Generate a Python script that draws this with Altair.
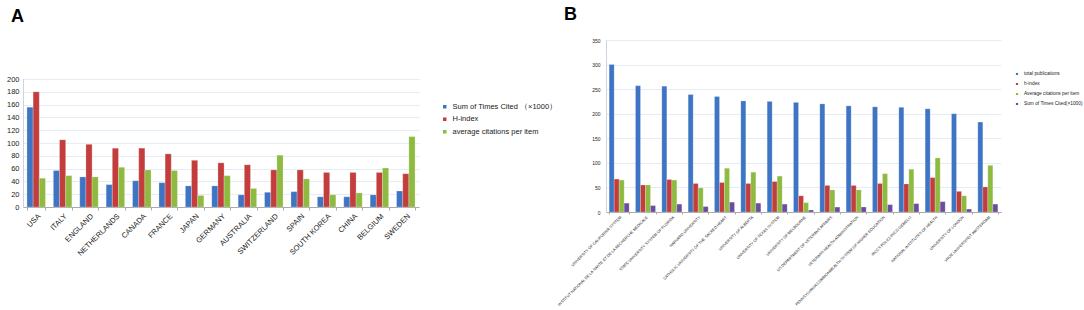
import altair as alt
import pandas as pd

# ---------- Panel A data ----------
countries = ["USA", "ITALY", "ENGLAND", "NETHERLANDS", "CANADA", "FRANCE", "JAPAN",
             "GERMANY", "AUSTRALIA", "SWITZERLAND", "SPAIN", "SOUTH KOREA", "CHINA",
             "BELGIUM", "SWEDEN"]
a_sum_cited = [156, 57, 47, 35, 41, 38, 33, 33, 19, 23, 24, 16, 16, 19, 25]
a_h_index = [180, 105, 98, 92, 92, 83, 73, 69, 66, 58, 58, 54, 54, 54, 52]
a_avg_cit = [45, 49, 47, 62, 58, 57, 18, 49, 29, 81, 44, 19, 22, 61, 110]
series_a = ["Sum of Times Cited （×1000）", "H-index", "average citations per item"]
colors_a = ["#3d74c4", "#c43d3d", "#8dba3f"]
a_ticks = [0, 20, 40, 60, 80, 100, 120, 140, 160, 180, 200]

# ---------- Panel B data ----------
institutions = [
    "UNIVERSITY OF CALIFORNIA SYSTEM",
    "INSTITUT NATIONAL DE LA SANTE ET DE LA RECHERCHE MEDICALE",
    "STATE UNIVERSITY SYSTEM OF FLORIDA",
    "HARVARD UNIVERSITY",
    "CATHOLIC UNIVERSITY OF THE SACRED HEART",
    "UNIVERSITY OF ALBERTA",
    "UNIVERSITY OF TEXAS SYSTEM",
    "UNIVERSITY OF MELBOURNE",
    "US DEPARTMENT OF VETERANS AFFAIRS",
    "VETERANS HEALTH ADMINISTRATION",
    "PENNSYLVANIA COMMONWEALTH SYSTEM OF HIGHER EDUCATION",
    "IRCCS POLICLINICO GEMELLI",
    "NATIONAL INSTITUTES OF HEALTH",
    "UNIVERSITY OF LONDON",
    "VRIJE UNIVERSITEIT AMSTERDAM",
]
b_total_pubs = [300, 257, 256, 239, 235, 226, 225, 223, 220, 216, 214, 213, 210, 200, 183]
b_h_index = [67, 55, 66, 58, 60, 58, 62, 33, 54, 54, 58, 57, 70, 42, 51]
b_avg_cit = [65, 55, 65, 49, 89, 81, 73, 19, 45, 45, 78, 87, 110, 33, 95]
b_sum_cited = [18, 13, 16, 11, 20, 18, 16, 4, 10, 10, 15, 17, 21, 6, 16]
series_b = ["total publications", "h-index", "Average citations per item",
            "Sum of Times Cited(×1000)"]
colors_b = ["#3d74c4", "#c43d3d", "#8dba3f", "#6b4c9e"]
b_ticks = [0, 50, 100, 150, 200, 250, 300, 350]

rows_a = []
for i, c in enumerate(countries):
    for s, vals in zip(series_a, [a_sum_cited, a_h_index, a_avg_cit]):
        rows_a.append({"country": c, "seriesA": s, "value": vals[i]})
df_a = pd.DataFrame(rows_a)

rows_b = []
for i, c in enumerate(institutions):
    for s, vals in zip(series_b, [b_total_pubs, b_h_index, b_avg_cit, b_sum_cited]):
        rows_b.append({"inst": c, "seriesB": s, "value": vals[i]})
df_b = pd.DataFrame(rows_b)

grid_col = "#e4ecf6"
axis_line = "#cfd3dc"

y_axis_a = alt.Axis(title=None, values=a_ticks, ticks=False, domain=False,
                    labelOverlap=False, labelFontSize=7.5, labelColor="#222",
                    gridColor=grid_col, labelPadding=4)
y_scale_a = alt.Scale(domain=[0, 261], nice=False)

bars_a = alt.Chart(df_a).mark_bar(strokeWidth=0.6, stroke="#ffffff", strokeOpacity=0.4).encode(
    x=alt.X("country:N", sort=countries,
            scale=alt.Scale(paddingInner=0.3, paddingOuter=0.15),
            axis=alt.Axis(title=None, labelAngle=-45, labelFontSize=7.5, labelColor="#222",
                          tickBand="extent", tickSize=3, tickColor="#aaa",
                          domainColor="#aaa", labelPadding=2)),
    xOffset=alt.XOffset("seriesA:N", sort=series_a),
    y=alt.Y("value:Q", scale=y_scale_a, axis=y_axis_a),
    color=alt.Color("seriesA:N", sort=series_a,
                    scale=alt.Scale(domain=series_a, range=colors_a),
                    legend=alt.Legend(title=None, orient="none", legendX=418, legendY=63,
                                      symbolType="square", symbolSize=25,
                                      labelFontSize=7.5, rowPadding=0.5, labelColor="#222")),
)
axis_a = alt.Chart(pd.DataFrame({"value": [a_ticks[0]], "hi": [a_ticks[-1]]})).mark_rule(
    color=axis_line, strokeWidth=1).encode(
    x=alt.value(0.5), y=alt.Y("value:Q", scale=y_scale_a, axis=y_axis_a), y2=alt.Y2("hi:Q"))

chart_a = alt.layer(bars_a, axis_a).properties(
    width=396, height=167,
    title=alt.TitleParams("A", anchor="start", fontSize=18, fontWeight="bold", frame="group",
                          offset=14, dx=-12, font="Liberation Sans"),
)

chart_b = alt.Chart(df_b).mark_bar(strokeWidth=0.5, stroke="#ffffff", strokeOpacity=0.4).encode(
    x=alt.X("inst:N", sort=institutions,
            scale=alt.Scale(paddingInner=0.24, paddingOuter=0.12),
            axis=alt.Axis(title=None, labelAngle=-45, labelFontSize=3.8, labelColor="#222",
                          tickBand="extent", tickSize=2, tickColor="#aaa",
                          domainColor="#aaa", labelPadding=1, labelLimit=300)),
    xOffset=alt.XOffset("seriesB:N", sort=series_b),
    y=alt.Y("value:Q", scale=alt.Scale(domain=[0, 350], nice=False),
            axis=alt.Axis(title=None, values=b_ticks, ticks=False, labelOverlap=False,
                          labelFontSize=5, labelColor="#222", gridColor=grid_col,
                          domainColor=axis_line, labelPadding=6)),
    color=alt.Color("seriesB:N", sort=series_b,
                    scale=alt.Scale(domain=series_b, range=colors_b),
                    legend=alt.Legend(title=None, orient="none", legendX=408, legendY=31,
                                      symbolType="square", symbolSize=14,
                                      labelFontSize=4.8, rowPadding=0, labelColor="#222")),
).properties(
    width=395, height=172,
    title=alt.TitleParams("B", anchor="start", fontSize=18, fontWeight="bold", frame="group",
                          offset=14, dx=-42, font="Liberation Sans"),
)

chart = alt.hconcat(chart_a, chart_b, spacing=187, bounds="flush").resolve_scale(
    color="independent", x="independent", y="independent", xOffset="independent"
).properties(padding={"left": 6, "top": 6, "right": 0, "bottom": 0}).configure(
    font="Liberation Sans",
    view=alt.ViewConfig(stroke="transparent", strokeWidth=0),
)

chart.save("out.html", embed_options={"renderer": "svg", "actions": False})
